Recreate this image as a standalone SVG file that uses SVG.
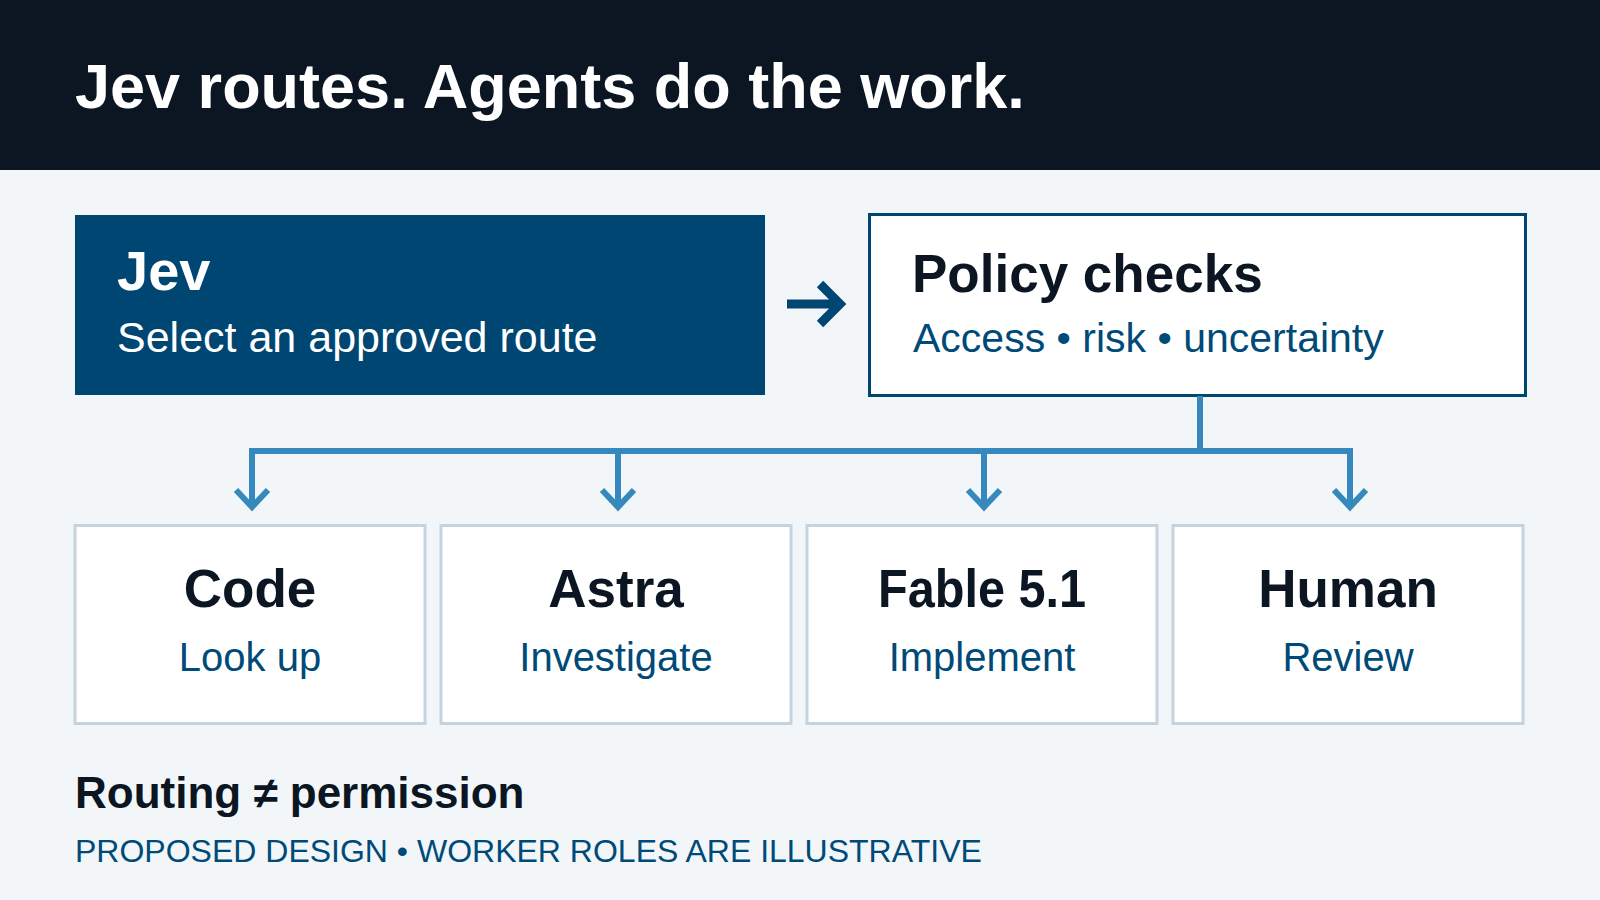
<svg xmlns="http://www.w3.org/2000/svg" width="1600" height="900" viewBox="0 0 1600 900">
  <style>
    .f { font-family: "Liberation Sans", Arial, sans-serif; }
    .b { font-weight: 700; }
    .dark { fill: #0b1622; }
    .blue { fill: #004a78; }
    .white { fill: #ffffff; }
    .worker { fill: #ffffff; stroke: #c5d3df; stroke-width: 3; }
    .conn { fill: none; stroke: #3589bd; stroke-width: 6; stroke-linejoin: miter; stroke-linecap: butt; }
    .main { fill: none; stroke: #004672; stroke-width: 9; stroke-linejoin: miter; stroke-linecap: butt; }
  </style>
  <rect x="0" y="0" width="1600" height="900" fill="#f2f6f9"/>
  <g id="header">
    <rect x="0" y="0" width="1600" height="170" fill="#0b1622"/>
    <text class="f b white" x="75" y="108" font-size="63">Jev routes. Agents do the work.</text>
  </g>
  <g id="jev">
    <rect x="75" y="215" width="690" height="180" fill="#004672"/>
    <text class="f b white" x="117" y="290" font-size="56">Jev</text>
    <text class="f white" x="117" y="352" font-size="43">Select an approved route</text>
  </g>
  <g id="policy">
    <rect x="869.5" y="214.5" width="656" height="181" fill="#ffffff" stroke="#004672" stroke-width="3"/>
    <text class="f b dark" x="912" y="292" font-size="53">Policy checks</text>
    <text class="f blue" x="913" y="352" font-size="41">Access • risk • uncertainty</text>
  </g>
  <g id="connectors">
    <path class="main" d="M787 304 H840 M820 284 L840 304 L820 324"/>
    <path class="conn" d="M1200 396 V451"/>
    <path class="conn" d="M249 451 H1353"/>
    <path class="conn" d="M252 451 V507 M236 490 L252 507 L268 490"/>
    <path class="conn" d="M618 451 V507 M602 490 L618 507 L634 490"/>
    <path class="conn" d="M984 451 V507 M968 490 L984 507 L1000 490"/>
    <path class="conn" d="M1350 451 V507 M1334 490 L1350 507 L1366 490"/>
  </g>
  <g id="code">
    <rect class="worker" x="75" y="525.5" width="350" height="198"/>
    <text class="f b dark" x="250" y="607" font-size="53" text-anchor="middle">Code</text>
    <text class="f blue" x="250" y="671" font-size="40" text-anchor="middle">Look up</text>
  </g>
  <g id="astra">
    <rect class="worker" x="441" y="525.5" width="350" height="198"/>
    <text class="f b dark" x="616" y="607" font-size="53" text-anchor="middle">Astra</text>
    <text class="f blue" x="616" y="671" font-size="40" text-anchor="middle">Investigate</text>
  </g>
  <g id="fable">
    <rect class="worker" x="807" y="525.5" width="350" height="198"/>
    <text class="f b dark" x="982" y="607" font-size="53" text-anchor="middle" textLength="208" lengthAdjust="spacingAndGlyphs">Fable 5.1</text>
    <text class="f blue" x="982" y="671" font-size="40" text-anchor="middle">Implement</text>
  </g>
  <g id="human">
    <rect class="worker" x="1173" y="525.5" width="350" height="198"/>
    <text class="f b dark" x="1348" y="607" font-size="53" text-anchor="middle">Human</text>
    <text class="f blue" x="1348" y="671" font-size="40" text-anchor="middle">Review</text>
  </g>
  <g id="footer">
    <text class="f b dark" x="75" y="808" font-size="44">Routing ≠ permission</text>
    <text class="f blue" x="75" y="862" font-size="32">PROPOSED DESIGN • WORKER ROLES ARE ILLUSTRATIVE</text>
  </g>
</svg>
